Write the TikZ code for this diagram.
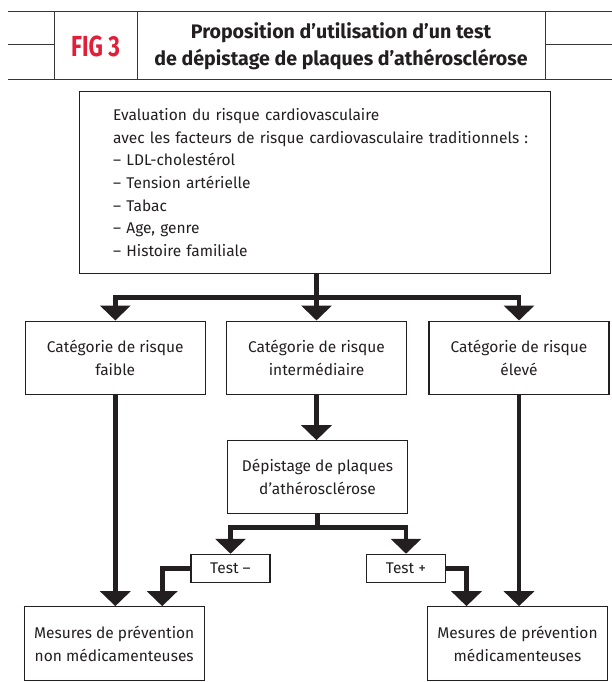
\documentclass[tikz,border=0pt]{standalone}
\usepackage{fontspec}
\setmainfont{Fira Sans}
\usetikzlibrary{arrows.meta,positioning}
\definecolor{rougefig}{RGB}{226,30,56}
\definecolor{trait}{RGB}{35,31,32}

\tikzset{boite/.style = {draw=trait, line width=1.1pt, minimum width=#1,
                         align=center, inner sep=0pt, text=trait,
                         font=\fontsize{15.5}{22.7}\selectfont},
         boite/.default=180pt,
         lien/.style = {draw=trait, line width=4.8pt},
         fleche/.style = {lien, -{Triangle[width=30pt,length=15pt]}},
         cadre/.style = {draw=trait!90, line width=1pt}
        }

\begin{document}
\begin{tikzpicture}[x=1pt, y=-1pt]
  \useasboundingbox (0,0) rectangle (612,682);
  % en-tete
  \draw[cadre] (8,12) -- (612,12) (8,80) -- (612,80)
               (8,45) -- (54,45) (545,45) -- (612,45)
               (54,12) -- (54,80) (137,12) -- (137,80) (545,12) -- (545,80);
  \node (fig) at (95.5,46.5) {\color{rougefig}\bfseries\fontsize{29}{29}\selectfont\scalebox{0.77}[1]{FIG 3}};
  \node[align=center, text=trait, font=\bfseries\fontsize{19.6}{26.7}\selectfont] (titre) at (341,46.5)
       {Proposition d’utilisation d’un test\\de dépistage de plaques d’athérosclérose};

  % boites
  \node[boite=471pt, minimum height=181.6pt, align=left, text width=471pt] (eval) at (314.7,182.5)
       {\leftskip=34pt
        Evaluation du risque cardiovasculaire\\
        avec les facteurs de risque cardiovasculaire traditionnels :\\
        – LDL-cholestérol\\
        – Tension artérielle\\
        – Tabac\\
        – Age, genre\\
        – Histoire familiale\par};
  \node[boite, minimum height=73.7pt] (faible) at (115.3,357.9) {Catégorie de risque\\faible};
  \node[boite, minimum height=73.7pt] (inter) at (316.5,357.9) {Catégorie de risque\\intermédiaire};
  \node[boite, minimum height=73.7pt] (eleve) at (519,357.9) {Catégorie de risque\\élevé};
  \node[boite, minimum height=72.6pt] (depist) at (317.5,477) {Dépistage de plaques\\d’athérosclérose};
  \node[boite=79pt, minimum height=28pt] (testm) at (230.5,568.3) {Test –};
  \node[boite=79pt, minimum height=28pt] (testp) at (406,568.3) {Test +};
  \node[boite, minimum height=74pt] (nonmed) at (114.2,643.7) {Mesures de prévention\\non médicamenteuses};
  \node[boite, minimum height=74pt] (med) at (517.5,643.7) {Mesures de prévention\\médicamenteuses};

  % fleches
  \coordinate (noeud1) at ([xshift=1.8pt,yshift=-23.4pt]eval.south);
  \draw[lien] (noeud1 |- eval.south) -- (noeud1);
  \draw[fleche] (noeud1) -| (faible.north);
  \draw[fleche] (noeud1) -- (inter.north);
  \draw[fleche] (noeud1) -| (eleve.north);
  \draw[fleche] (faible.south) -- (nonmed.north -| faible.south);
  \draw[fleche] (eleve.south) -- (med.north -| eleve.south);
  \draw[fleche] (inter.south) -- (depist.north -| inter.south);
  \coordinate (noeud2) at ([yshift=-13.4pt]depist.south);
  \draw[lien] (depist.south) -- (noeud2);
  \draw[fleche] (noeud2) -| (testm.north);
  \draw[fleche] (noeud2) -| (testp.north);
  \draw[fleche] (testm.west) -| ([xshift=48pt]nonmed.north);
  \draw[fleche] (testp.east) -| ([xshift=-51pt]med.north);
\end{tikzpicture}
\end{document}
